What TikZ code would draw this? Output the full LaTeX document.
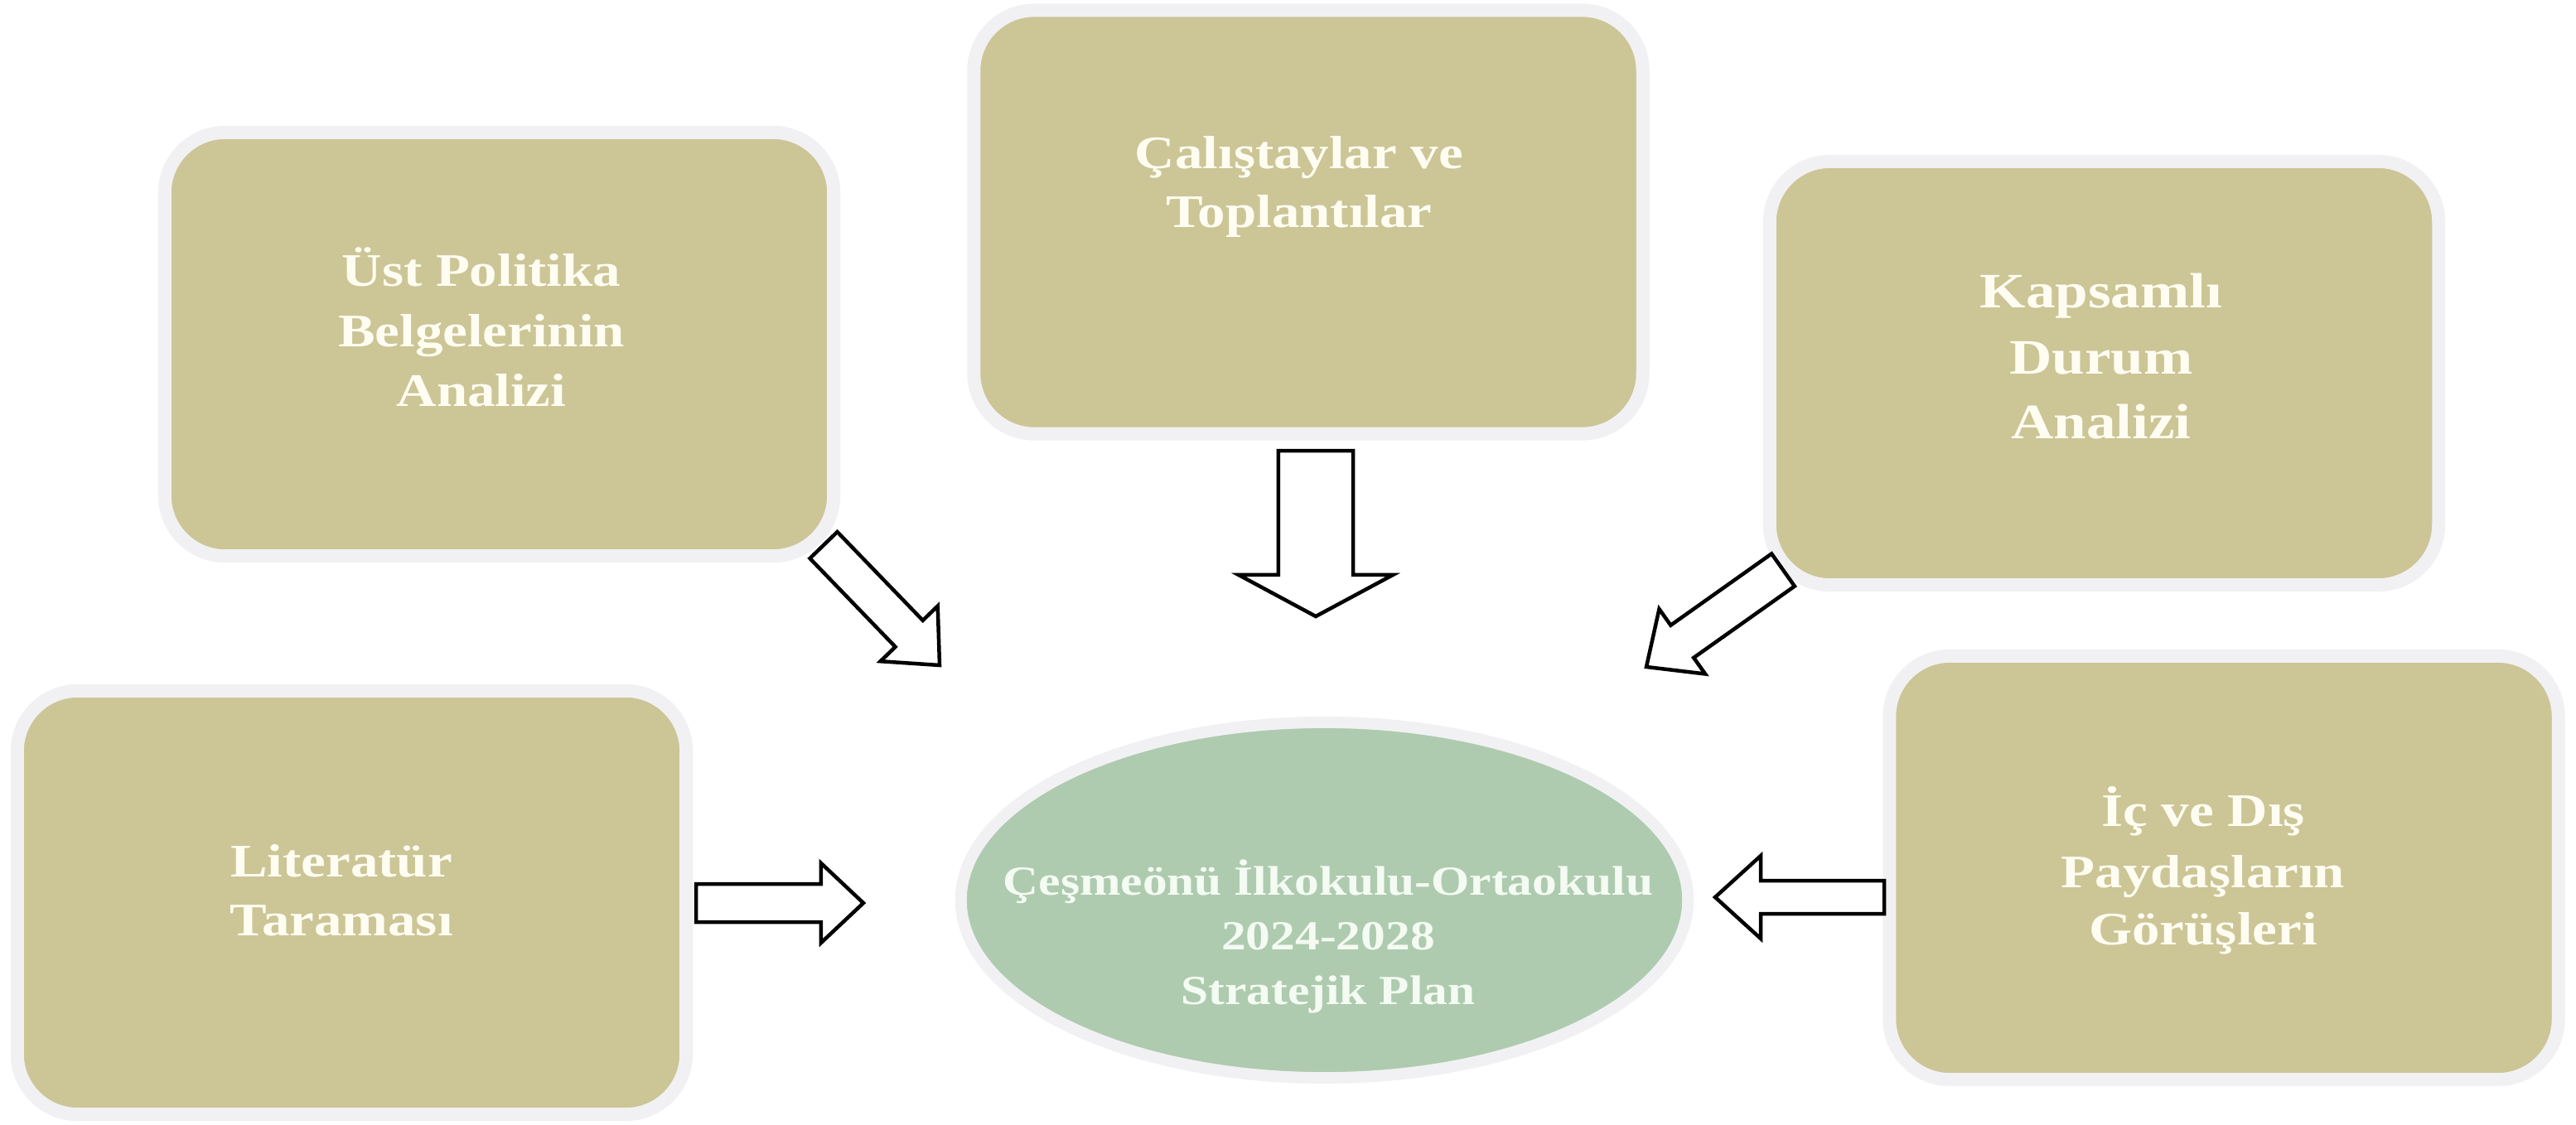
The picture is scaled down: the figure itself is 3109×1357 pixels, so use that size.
\documentclass[tikz,border=0pt]{standalone}
\usepackage{fontspec}
\setmainfont{Liberation Serif}[FakeStretch=1.19]
\usetikzlibrary{calc,shapes.geometric}
\definecolor{boxtan}{HTML}{CCC596}
\definecolor{ovalgreen}{HTML}{AECBAF}
\definecolor{rimgray}{HTML}{F1F1F3}
\definecolor{boxtext}{HTML}{FFFDF2}
\definecolor{ovaltext}{HTML}{F4FBF2}
\newcommand{\blockarr}[5]{%
  \coordinate (#1b) at ($(#2)!#5!(#1)$);
  \draw[blk] ($(#1)!#3!90:(#2)$) -- ($(#1b)!#3!90:(#2)$) -- ($(#1b)!#4!90:(#2)$) -- (#2)
    -- ($(#1b)!#4!-90:(#2)$) -- ($(#1b)!#3!-90:(#2)$) -- ($(#1)!#3!-90:(#2)$) -- cycle;}
\begin{document}
\begin{tikzpicture}[x=0.01cm,y=-0.01cm,
  rbox/.style={rectangle, rounded corners=0.73cm, fill=boxtan, draw=rimgray, line width=0.16cm,
    minimum width=8.07cm, minimum height=5.11cm, inner sep=0pt},
  oval/.style={ellipse, fill=ovalgreen, draw=rimgray, line width=0.14cm,
    minimum width=8.77cm, minimum height=4.29cm, inner sep=0pt},
  btxt/.style={anchor=base, inner sep=0pt, text=boxtext, font=\fontsize{16}{20}\selectfont\bfseries},
  bigtxt/.style={anchor=base, inner sep=0pt, text=boxtext, font=\fontsize{17}{21}\selectfont\bfseries},
  otxt/.style={anchor=base, inner sep=0pt, text=ovaltext, font=\fontsize{14.2}{18}\selectfont\bfseries},
  blk/.style={draw=black, fill=white, line width=0.045cm, line join=miter}]
\useasboundingbox (0,0) rectangle (3109,1357);
% boxes
\node[rbox] (ust) at (602.5,415.5) {};
\node[rbox] (cal) at (1579,268) {};
\node[rbox] (kap) at (2539.5,450.5) {};
\node[rbox] (lit) at (424.5,1089.5) {};
\node[rbox] (ic)  at (2684,1047.5) {};
\node[oval] (plan) at (1598.5,1086.5) {};
% texts
\node[btxt] (ust1) at (581,345) {Üst Politika};
\node[btxt] (ust2) at (581,418) {Belgelerinin};
\node[btxt] (ust3) at (581,490) {Analizi};
\node[btxt] (cal1) at (1568,203) {Çalıştaylar ve};
\node[btxt] (cal2) at (1568,274) {Toplantılar};
\node[bigtxt] (kap1) at (2536,371) {Kapsamlı};
\node[bigtxt] (kap2) at (2536,451) {Durum};
\node[bigtxt] (kap3) at (2536,529) {Analizi};
\node[btxt] (lit1) at (412,1058) {Literatür};
\node[btxt] (lit2) at (412,1129) {Taraması};
\node[btxt] (ic1) at (2659,997) {İç ve Dış};
\node[btxt] (ic2) at (2659,1071) {Paydaşların};
\node[btxt] (ic3) at (2659,1140) {Görüşleri};
\node[otxt] (pl1) at (1603,1080) {Çeşmeönü İlkokulu-Ortaokulu};
\node[otxt] (pl2) at (1603,1146) {2024-2028};
\node[otxt] (pl3) at (1603,1212) {Stratejik Plan};
% arrows
\coordinate (alits) at (840,1090);  \coordinate (alite) at (1042,1090);
\coordinate (acals) at (1588,544);  \coordinate (acale) at (1588,744);
\coordinate (aausts) at (994,658);  \coordinate (aauste) at (1134,803);
\coordinate (akaps) at (2152,688);  \coordinate (akape) at (1987,805);
\coordinate (aics) at (2274,1083);  \coordinate (aice) at (2070,1083);
\blockarr{alits}{alite}{0.23cm}{0.48cm}{0.51cm}
\blockarr{acals}{acale}{0.45cm}{0.93cm}{0.50cm}
\blockarr{aausts}{aauste}{0.23cm}{0.48cm}{0.53cm}
\blockarr{akaps}{akape}{0.24cm}{0.48cm}{0.53cm}
\blockarr{aics}{aice}{0.20cm}{0.50cm}{0.55cm}
\end{tikzpicture}
\end{document}
